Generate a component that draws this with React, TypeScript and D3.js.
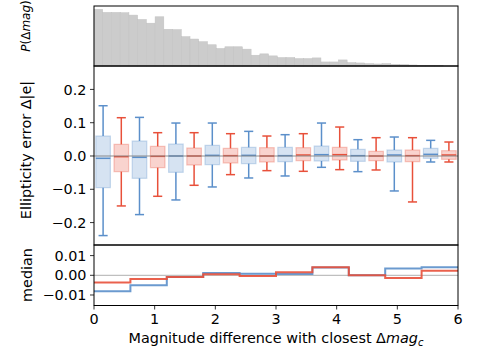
import React from "react";
import * as d3 from "d3";

// ---------- data ----------
const histCounts = [168, 159, 159, 158, 151, 138, 127, 146, 109, 108, 87, 80, 72, 63, 52, 57, 57, 50, 32, 36, 30, 25, 25, 22, 22, 24, 12, 12, 18, 10, 9, 7, 6, 7, 5, 4, 3, 2, 2, 1];
const histMaxMag = 5.755;
const histYMax = 178;

const binStarts = [0, 0.6, 1.2, 1.8, 2.4, 3.0, 3.6, 4.2, 4.8, 5.4];

const blueLo = [-0.239, -0.176, -0.132, -0.093, -0.066, -0.060, -0.034, -0.047, -0.105, -0.018];
const blueQ1 = [-0.095, -0.067, -0.049, -0.026, -0.023, -0.017, -0.015, -0.016, -0.018, -0.007];
const blueMed = [-0.007, -0.004, 0.000, 0.002, 0.002, 0.001, 0.004, 0.001, 0.003, 0.005];
const blueQ3 = [0.060, 0.045, 0.036, 0.032, 0.026, 0.026, 0.030, 0.020, 0.018, 0.023];
const blueHi = [0.151, 0.116, 0.099, 0.099, 0.074, 0.064, 0.099, 0.049, 0.057, 0.047];

const redLo = [-0.150, -0.121, -0.088, -0.056, -0.044, -0.046, -0.041, -0.042, -0.138, -0.018];
const redQ1 = [-0.047, -0.035, -0.027, -0.021, -0.018, -0.014, -0.012, -0.014, -0.017, -0.010];
const redMed = [-0.002, -0.001, 0.000, 0.001, 0.000, 0.003, 0.004, 0.000, 0.001, 0.003];
const redQ3 = [0.035, 0.029, 0.024, 0.023, 0.025, 0.025, 0.026, 0.014, 0.018, 0.016];
const redHi = [0.115, 0.070, 0.070, 0.067, 0.060, 0.067, 0.087, 0.055, 0.055, 0.042];

const blueMedianStep = [-0.0081, -0.0051, -0.0009, 0.0012, 0.0008, 0.0007, 0.0040, 0.0000, 0.0034, 0.0041];
const redMedianStep = [-0.0037, -0.0019, -0.0009, 0.0005, -0.0004, 0.0015, 0.0041, 0.0000, -0.0014, 0.0023];

const xTicks = [0, 1, 2, 3, 4, 5, 6];
const midTicks = [0.2, 0.1, 0.0, -0.1, -0.2];
const midTickLabels = ["0.2", "0.1", "0.0", "\u22120.1", "\u22120.2"];
const botTicks = [0.01, 0.0, -0.01];
const botTickLabels = ["0.01", "0.00", "\u22120.01"];

// ---------- layout ----------
const W = 479, H = 361;
const L = 94, R = 458;
const TOP = [6, 66];
const MID = [66, 245];
const BOT = [245, 305.5];
const BLUE = "#5b8fca";
const RED = "#e8503a";
const FONT = "DejaVu Sans";
const FS = 14.4;

export default function App() {
  const x = d3.scaleLinear().domain([0, 6]).range([L, R]);
  const yTop = d3.scaleLinear().domain([0, histYMax]).range([TOP[1], TOP[0]]);
  const yMid = d3.scaleLinear().domain([-0.2673, 0.2703]).range([MID[1], MID[0]]);
  const yBot = d3.scaleLinear().domain([-0.01533, 0.01538]).range([BOT[1], BOT[0]]);

  const bw = histMaxMag / histCounts.length;
  const boxW = 0.24;
  const capW = 0.15;

  const stepLine = (vals: number[]) => {
    const pts: [number, number][] = binStarts.map((b, i) => [b, vals[i]]);
    pts.push([6, vals[vals.length - 1]]);
    return d3.line<[number, number]>()
      .x((d) => x(d[0]))
      .y((d) => yBot(d[1]))
      .curve(d3.curveStepAfter)(pts) || "";
  };

  const boxes = (
    color: string,
    offset: number,
    lo: number[], q1: number[], med: number[], q3: number[], hi: number[],
  ) =>
    binStarts.map((b, i) => {
      const c = b + offset;
      const x0 = x(c - boxW / 2), x1 = x(c + boxW / 2);
      const cx0 = x(c - capW / 2), cx1 = x(c + capW / 2);
      return (
        <g key={i}>
          <rect x={x0} y={yMid(q3[i])} width={x1 - x0} height={yMid(q1[i]) - yMid(q3[i])}
            fill={color} fillOpacity={0.25} stroke={color} strokeOpacity={0.3} strokeWidth={1.2} />
          <line x1={x(c)} x2={x(c)} y1={yMid(q3[i])} y2={yMid(hi[i])} stroke={color} strokeWidth={1.5} />
          <line x1={x(c)} x2={x(c)} y1={yMid(q1[i])} y2={yMid(lo[i])} stroke={color} strokeWidth={1.5} />
          <line x1={cx0} x2={cx1} y1={yMid(hi[i])} y2={yMid(hi[i])} stroke={color} strokeWidth={1.5} />
          <line x1={cx0} x2={cx1} y1={yMid(lo[i])} y2={yMid(lo[i])} stroke={color} strokeWidth={1.5} />
          <line x1={x0} x2={x1} y1={yMid(med[i])} y2={yMid(med[i])} stroke={color} strokeWidth={1.5} />
        </g>
      );
    });

  return (
    <svg width={W} height={H} style={{ position: "absolute", left: 0, top: 0, background: "#fff" }}
      fontFamily={FONT} fontSize={FS}>
      <rect x={0} y={0} width={W} height={H} fill="#fff" />
      {/* histogram */}
      {histCounts.map((c, i) => (
        <rect key={i} x={x(i * bw)} y={yTop(c)} width={x(bw) - x(0)} height={yTop(0) - yTop(c)}
          fill="#cccccc" stroke="#c2c2c2" strokeWidth={0.5} />
      ))}
      <rect x={L} y={TOP[0]} width={R - L} height={TOP[1] - TOP[0]} fill="none" stroke="#000" strokeWidth={1} />

      {/* box plots */}
      {boxes(BLUE, 0.15, blueLo, blueQ1, blueMed, blueQ3, blueHi)}
      {boxes(RED, 0.45, redLo, redQ1, redMed, redQ3, redHi)}
      <line x1={L} x2={R} y1={yMid(0)} y2={yMid(0)} stroke="#7f7f7f" strokeOpacity={0.6} strokeWidth={1.5} />
      <rect x={L} y={MID[0]} width={R - L} height={MID[1] - MID[0]} fill="none" stroke="#000" strokeWidth={1} />
      {midTicks.map((t, i) => (
        <g key={i}>
          <line x1={L - 4} x2={L} y1={yMid(t)} y2={yMid(t)} stroke="#000" strokeWidth={0.8} />
          <text x={L - 7.5} y={yMid(t)} dy="0.36em" textAnchor="end">{midTickLabels[i]}</text>
        </g>
      ))}

      {/* medians */}
      <line x1={L} x2={R} y1={yBot(0)} y2={yBot(0)} stroke="#b0b0b0" strokeWidth={1} />
      <path d={stepLine(blueMedianStep)} fill="none" stroke={BLUE} strokeWidth={2} strokeOpacity={0.9} />
      <path d={stepLine(redMedianStep)} fill="none" stroke={RED} strokeWidth={2} strokeOpacity={0.9} />
      <rect x={L} y={BOT[0]} width={R - L} height={BOT[1] - BOT[0]} fill="none" stroke="#000" strokeWidth={1} />
      {botTicks.map((t, i) => (
        <g key={i}>
          <line x1={L - 4} x2={L} y1={yBot(t)} y2={yBot(t)} stroke="#000" strokeWidth={0.8} />
          <text x={L - 7.5} y={yBot(t)} dy="0.36em" textAnchor="end">{botTickLabels[i]}</text>
        </g>
      ))}
      {xTicks.map((t) => (
        <g key={t}>
          <line x1={x(t)} x2={x(t)} y1={BOT[1]} y2={BOT[1] + 4} stroke="#000" strokeWidth={0.8} />
          <text x={x(t)} y={BOT[1] + 7.5} dy="0.76em" textAnchor="middle">{t}</text>
        </g>
      ))}

      {/* labels */}
      <text x={(L + R) / 2} y={343} textAnchor="middle">
        Magnitude difference with closest Δ<tspan fontStyle="italic">mag</tspan>
        <tspan fontStyle="italic" fontSize={10} dy={2.5}>c</tspan>
      </text>
      <text transform={`translate(31,150) rotate(-90)`} textAnchor="middle">Ellipticity error Δ|e|</text>
      <text transform={`translate(32,275) rotate(-90)`} textAnchor="middle">median</text>
      <text transform={`translate(30,26) rotate(-90)`} textAnchor="middle" fontSize={12}>
        <tspan fontStyle="italic">P</tspan>(Δ<tspan fontStyle="italic">mag</tspan>)
      </text>
    </svg>
  );
}
